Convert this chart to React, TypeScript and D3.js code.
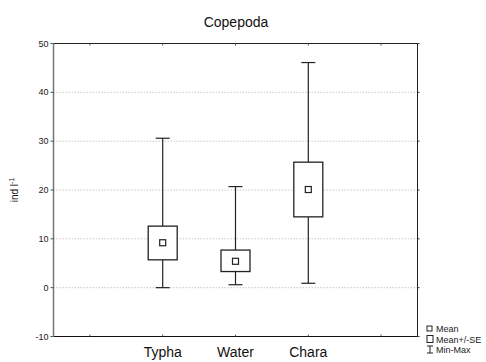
import React from 'react';
import * as d3 from 'd3';

const categories = ['Typha', 'Water', 'Chara'];
const means = [9.2, 5.4, 20.1];
const seLow = [5.7, 3.3, 14.5];
const seHigh = [12.6, 7.7, 25.7];
const mins = [0, 0.6, 0.9];
const maxs = [30.6, 20.7, 46.1];
const yTicks = [-10, 0, 10, 20, 30, 40, 50];
const legendItems = ['Mean', 'Mean+/-SE', 'Min-Max'];

const W = 486;
const H = 362;
const left = 53.5;
const right = 417.5;
const top = 43.5;
const bottom = 336.5;
const font = 'Liberation Sans, Arial, sans-serif';

export default function App() {
  // 5 slots: empty, three groups, empty
  const slots = ['_a', ...categories, '_b'];
  const x = d3.scaleBand().domain(slots).range([left, right]);
  const y = d3.scaleLinear().domain([-10, 50]).range([bottom, top]);
  const cx = (c: string) => (x(c) as number) + x.bandwidth() / 2;
  const boxW = 29;
  const capW = 14;
  const m = 6;

  return (
    <svg width={W} height={H} style={{ position: 'absolute', left: 0, top: 0 }}>
      <rect width={W} height={H} fill="#fff" />
      <text x={236} y={27} textAnchor="middle" fontFamily={font} fontSize={14} fill="#111">Copepoda</text>

      {/* grid */}
      {yTicks.filter(t => t > -10 && t < 50).map(t => (
        <line key={t} x1={left} x2={right} y1={y(t)} y2={y(t)} stroke="#bbb" strokeWidth={0.8} strokeDasharray="1.5,1.5" />
      ))}

      {/* frame */}
      <line x1={left} x2={right} y1={top} y2={top} stroke="#222" strokeWidth={1} />
      <line x1={left} x2={right} y1={bottom} y2={bottom} stroke="#111" strokeWidth={1.2} />
      <line x1={right} x2={right} y1={top} y2={bottom} stroke="#222" strokeWidth={1} />
      <line x1={left} x2={left} y1={top} y2={bottom} stroke="#777" strokeWidth={1.5} />

      {/* y ticks */}
      {yTicks.map(t => (
        <g key={t}>
          <line x1={left - 3} x2={left} y1={y(t)} y2={y(t)} stroke="#555" />
          <line x1={right} x2={right + 2} y1={y(t)} y2={y(t)} stroke="#333" />
          <text x={left - 5} y={y(t) + 3} textAnchor="end" fontFamily={font} fontSize={9} fill="#222">{t}</text>
        </g>
      ))}

      {/* x ticks */}
      {slots.map(s => (
        <g key={s}>
          <line x1={cx(s)} x2={cx(s)} y1={top} y2={top + 2} stroke="#555" />
          <line x1={cx(s)} x2={cx(s)} y1={bottom} y2={bottom - 2} stroke="#555" />
        </g>
      ))}
      {categories.map(c => (
        <text key={c} x={cx(c)} y={357} textAnchor="middle" fontFamily={font} fontSize={14} fill="#111">{c}</text>
      ))}

      {/* y label */}
      <text transform={`translate(18,${y(20)}) rotate(-90)`} textAnchor="middle" fontFamily={font} fontSize={10} fill="#111">
        ind l<tspan dy={-4} fontSize={7}>-1</tspan>
      </text>

      {/* boxes */}
      {categories.map((c, i) => {
        const px = cx(c);
        return (
          <g key={c} stroke="#222" fill="none" strokeWidth={1.2}>
            <line x1={px} x2={px} y1={y(maxs[i])} y2={y(seHigh[i])} />
            <line x1={px} x2={px} y1={y(seLow[i])} y2={y(mins[i])} />
            <line x1={px - capW / 2} x2={px + capW / 2} y1={y(maxs[i])} y2={y(maxs[i])} />
            <line x1={px - capW / 2} x2={px + capW / 2} y1={y(mins[i])} y2={y(mins[i])} />
            <rect x={px - boxW / 2} y={y(seHigh[i])} width={boxW} height={y(seLow[i]) - y(seHigh[i])} fill="#fff" strokeWidth={1.3} />
            <rect x={px - m / 2} y={y(means[i]) - m / 2} width={m} height={m} fill="#fff" />
          </g>
        );
      })}

      {/* legend */}
      {legendItems.map((t, i) => {
        const ly = 332 + i * 10.5;
        return (
          <g key={t}>
            {i === 0 && <rect x={427} y={ly - 6} width={5} height={5} fill="none" stroke="#222" />}
            {i === 1 && <rect x={427} y={ly - 7} width={6} height={7} fill="none" stroke="#222" />}
            {i === 2 && (
              <g stroke="#222">
                <line x1={430} x2={430} y1={ly - 7} y2={ly} />
                <line x1={427} x2={433} y1={ly - 7} y2={ly - 7} />
                <line x1={427} x2={433} y1={ly} y2={ly} />
              </g>
            )}
            <text x={436} y={ly} fontFamily={font} fontSize={9} fill="#222">{t}</text>
          </g>
        );
      })}
    </svg>
  );
}
